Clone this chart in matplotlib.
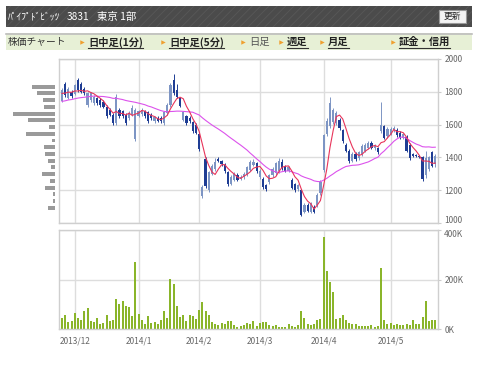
import numpy as np
import pandas as pd
import matplotlib
matplotlib.use("Agg")
import matplotlib.pyplot as plt
import matplotlib.transforms as mtransforms
from matplotlib.patches import Rectangle
from matplotlib.lines import Line2D

plt.rcParams['font.family'] = ['Noto Sans CJK JP', 'DejaVu Sans']
plt.rcParams['hatch.linewidth'] = 0.6

W, H = 480, 366

# ヘッダー
title_name = "ﾊﾟｲﾌﾟﾄﾞﾋﾞｯﾂ"
title_code = "3831"
title_market = "東京 1部"
nav_label = "株価チャート"
nav_items = ["日中足(1分)", "日中足(5分)", "日足", "週足", "月足", "証金・信用"]
nav_links = [True, True, False, True, True, True]

# 営業日
holidays = ["2013-12-23", "2013-12-31", "2014-01-01", "2014-01-02", "2014-01-03",
            "2014-01-13", "2014-02-11", "2014-03-21", "2014-04-29", "2014-05-05", "2014-05-06"]
dates = pd.bdate_range("2013-11-26", "2014-05-23")
dates = dates[~dates.isin(pd.to_datetime(holidays))]

opens = [1745, 1850, 1765, 1800, 1785, 1870, 1850, 1820, 1720, 1750,
         1730, 1760, 1750, 1740, 1710, 1690, 1660, 1610, 1690, 1680,
         1660, 1640, 1660, 1510, 1655, 1665, 1680, 1675, 1660, 1620,
         1640, 1640, 1610, 1670, 1720, 1870, 1810, 1760, 1630, 1650,
         1640, 1615, 1600, 1540, 1165, 1390, 1200, 1300, 1330, 1390,
         1375, 1355, 1310, 1240, 1265, 1295, 1270, 1280, 1295, 1325,
         1355, 1365, 1280, 1270, 1230, 1250, 1290, 1305, 1315, 1375,
         1345, 1320, 1265, 1235, 1205, 1200, 1070, 1110, 1070, 1100,
         1110, 1180, 1325, 1540, 1590, 1615, 1610, 1630, 1565, 1475,
         1440, 1380, 1420, 1395, 1420, 1440, 1460, 1490, 1455, 1455,
         1560, 1590, 1530, 1545, 1565, 1570, 1550, 1520, 1525, 1475,
         1420, 1415, 1410, 1405, 1290, 1330, 1430, 1360]
highs = [1825, 1860, 1830, 1810, 1850, 1885, 1860, 1830, 1800, 1800,
         1780, 1770, 1760, 1750, 1720, 1700, 1670, 1785, 1700, 1690,
         1670, 1680, 1720, 1700, 1690, 1700, 1690, 1685, 1670, 1655,
         1650, 1650, 1685, 1730, 1855, 1910, 1850, 1770, 1685, 1660,
         1650, 1625, 1610, 1550, 1230, 1400, 1320, 1360, 1395, 1405,
         1385, 1365, 1320, 1290, 1310, 1305, 1290, 1310, 1350, 1385,
         1390, 1375, 1330, 1280, 1240, 1300, 1340, 1375, 1395, 1390,
         1355, 1350, 1275, 1245, 1240, 1210, 1120, 1120, 1130, 1110,
         1180, 1260, 1545, 1640, 1770, 1700, 1680, 1640, 1575, 1485,
         1450, 1430, 1430, 1440, 1480, 1485, 1500, 1500, 1480, 1465,
         1735, 1600, 1585, 1585, 1590, 1580, 1560, 1550, 1535, 1485,
         1425, 1420, 1415, 1410, 1440, 1410, 1440, 1420]
lows = [1735, 1770, 1755, 1765, 1780, 1800, 1790, 1780, 1710, 1740,
        1720, 1720, 1710, 1700, 1640, 1650, 1595, 1600, 1640, 1640,
        1600, 1630, 1650, 1500, 1645, 1655, 1640, 1610, 1630, 1610,
        1615, 1610, 1600, 1660, 1710, 1780, 1760, 1705, 1620, 1600,
        1610, 1550, 1540, 1440, 1150, 1215, 1190, 1290, 1320, 1370,
        1350, 1305, 1225, 1230, 1255, 1255, 1260, 1270, 1285, 1315,
        1345, 1305, 1270, 1210, 1195, 1240, 1280, 1295, 1305, 1325,
        1310, 1310, 1205, 1190, 1195, 1040, 1060, 1065, 1060, 1060,
        1100, 1170, 1310, 1530, 1580, 1605, 1600, 1570, 1490, 1430,
        1365, 1370, 1380, 1385, 1410, 1430, 1450, 1450, 1445, 1420,
        1550, 1510, 1520, 1535, 1555, 1525, 1510, 1510, 1430, 1385,
        1400, 1400, 1395, 1255, 1275, 1320, 1340, 1340]
closes = [1810, 1780, 1820, 1775, 1840, 1810, 1800, 1790, 1790, 1790,
          1770, 1730, 1720, 1710, 1650, 1660, 1610, 1770, 1650, 1650,
          1610, 1670, 1700, 1690, 1680, 1690, 1650, 1620, 1640, 1645,
          1625, 1620, 1675, 1720, 1840, 1790, 1770, 1715, 1675, 1610,
          1620, 1560, 1550, 1450, 1220, 1225, 1310, 1350, 1375, 1380,
          1360, 1315, 1235, 1280, 1300, 1265, 1280, 1300, 1340, 1375,
          1375, 1315, 1320, 1220, 1205, 1290, 1330, 1365, 1380, 1335,
          1320, 1340, 1215, 1200, 1230, 1050, 1110, 1075, 1120, 1070,
          1170, 1250, 1535, 1620, 1730, 1690, 1670, 1580, 1500, 1440,
          1380, 1420, 1390, 1430, 1470, 1475, 1490, 1460, 1470, 1430,
          1600, 1520, 1575, 1575, 1580, 1535, 1520, 1540, 1440, 1395,
          1410, 1410, 1405, 1270, 1395, 1400, 1350, 1410]
# 表示期間より前の終値（移動平均用）
prior_closes = [1700, 1690, 1710, 1720, 1705, 1730, 1740, 1725, 1715, 1735,
                1750, 1740, 1730, 1720, 1735, 1745, 1760, 1750, 1740, 1755,
                1770, 1790, 1780, 1800]
volumes_k = [47, 57, 28, 34, 65, 44, 39, 73, 84, 34, 31, 47, 23, 26, 57, 34, 39, 123, 101, 112,
             93, 90, 54, 271, 62, 38, 23, 54, 24, 31, 22, 38, 74, 44, 201, 183, 93, 50, 57, 34,
             59, 54, 42, 77, 109, 74, 58, 28, 23, 19, 26, 23, 32, 32, 18, 9, 13, 16, 26, 23,
             34, 13, 26, 28, 31, 18, 13, 18, 8, 8, 8, 20, 12, 9, 18, 75, 47, 23, 16, 23,
             36, 42, 372, 236, 189, 152, 42, 46, 59, 39, 26, 22, 20, 15, 12, 15, 15, 16, 11, 12,
             245, 39, 23, 26, 18, 20, 18, 19, 23, 16, 39, 22, 22, 50, 113, 34, 39, 36]

# 価格帯別出来高
profile_prices = [1831, 1790, 1749, 1708, 1667, 1626, 1585, 1544, 1503, 1462,
                  1421, 1380, 1339, 1298, 1257, 1216, 1175, 1134, 1093]
profile_volume = [23, 18, 12, 11, 42, 27, 6, 29, 3, 11, 10, 7, 4, 13, 5, 10, 2, 2, 7]

n = len(dates)
x = np.arange(n)
o = np.array(opens); h = np.array(highs); l = np.array(lows); c = np.array(closes)
s = pd.Series(prior_closes + closes, dtype=float)
ma5 = s.rolling(5).mean().values[len(prior_closes):]
ma25 = s.rolling(25).mean().values[len(prior_closes):]

months = dates.to_period("M")
month_idx = [i for i in range(1, n) if months[i] != months[i - 1]]
month_lbl = ["%d/%d" % (dates[i].year, dates[i].month) for i in month_idx]

fig = plt.figure(figsize=(W / 100, H / 100), dpi=100)
fig.patch.set_facecolor("white")


def fx(px):
    return px / W


def fy(py):
    return 1 - py / H


# ヘッダー部分
fig.patches.append(Rectangle((fx(6), fy(27)), 466 / W, 21 / H, transform=fig.transFigure,
                             facecolor="#4b4b4b", edgecolor="#585858", lw=0, hatch="////"))
fig.text(fx(8), fy(16.5), title_name, color="white", fontsize=6.9, va="center")
fig.text(fx(67), fy(16.5), title_code, color="white", fontsize=7.3, va="center")
fig.text(fx(97), fy(16.5), title_market, color="white", fontsize=7.5, va="center")
fig.patches.append(Rectangle((fx(439), fy(23)), 27 / W, 13 / H, transform=fig.transFigure,
                             facecolor="#f3f3f3", edgecolor="#999999", lw=0.8))
fig.text(fx(452.5), fy(16.5), "更新", color="#222222", fontsize=6.3, ha="center", va="center")

fig.patches.append(Rectangle((fx(6), fy(50)), 466 / W, 17 / H, transform=fig.transFigure,
                             facecolor="#e7f0d6", edgecolor="none"))
fig.add_artist(Line2D([fx(6), fx(472)], [fy(33.5), fy(33.5)], color="#bdbdbd", lw=1.2,
                      transform=fig.transFigure))
fig.text(fx(8), fy(42), nav_label, color="#333333", fontsize=7, va="center")
arrow_x = [82, 163, 243, 281, 322, 393]
link_texts = []
for ax_px, label, link in zip(arrow_x, nav_items, nav_links):
    fig.add_artist(Line2D([fx(ax_px)], [fy(42)], marker=">", ms=3.2, color="#f0a030",
                          mec="none", transform=fig.transFigure))
    t = fig.text(fx(ax_px + 6), fy(42), label, fontsize=7.4, va="center",
                 color="#222222" if link else "#555555",
                 fontweight="bold" if link else "normal")
    if link:
        link_texts.append(t)

# チャート
ax = fig.add_axes([fx(59), fy(223), 379 / W, 164 / H])
axv = fig.add_axes([fx(59), fy(329.3), 379 / W, 99.3 / H])
axp = fig.add_axes([fx(10), fy(223), 45 / W, 164 / H])

up = c >= o
col_up, col_dn = "#7d95c4", "#1f3d94"
colors = np.where(up, col_up, col_dn)
body = np.maximum(np.abs(c - o), 4)
ax.vlines(x, l, h, colors=colors, lw=0.7, zorder=2)
ax.bar(x, body, bottom=np.minimum(o, c), width=0.68, color=colors, zorder=2)
ax.plot(x, ma25, color="#dc52ec", lw=0.8, zorder=3)
ax.plot(x, ma5, color="#e8345a", lw=0.8, zorder=4)

axv.bar(x, np.array(volumes_k) * 1000, width=0.62, color="#8ab52a", zorder=2)

axp.barh(profile_prices, profile_volume, height=24, color="#9a9a9a")
axp.set_ylim(1000, 2000)
axp.set_xlim(45, 0)
axp.axis("off")

for a in (ax, axv):
    a.set_xlim(-0.94, n - 1 + 0.85)
    a.set_xticks(month_idx)
    a.grid(True, color="#dddddd", lw=1.0, zorder=0)
    a.set_axisbelow(True)
    for sp in a.spines.values():
        sp.set_color("#cfcfcf")
        sp.set_linewidth(1.0)
    a.yaxis.tick_right()
    a.tick_params(axis="y", length=2.5, color="#cccccc", pad=2, labelsize=6, labelcolor="#666666")
    a.tick_params(axis="x", length=0, labelsize=6, labelcolor="#666666", pad=5)

ax.set_ylim(1000, 2000)
ax.set_yticks(range(1000, 2001, 200))
ax.set_xticklabels([])

axv.set_ylim(0, 400000)
axv.set_yticks([0, 200000, 400000])
axv.set_yticklabels(["0K", "200K", "400K"])
axv.set_xticklabels(month_lbl)

# 1000 と 400K のラベルが重ならないよう少しずらす
fig.canvas.draw()
up_shift = mtransforms.ScaledTranslation(0, 2.5 / 72, fig.dpi_scale_trans)
dn_shift = mtransforms.ScaledTranslation(0, -2.5 / 72, fig.dpi_scale_trans)
lbl_bottom = ax.get_yticklabels()[0]
lbl_bottom.set_transform(lbl_bottom.get_transform() + up_shift)
lbl_top = axv.get_yticklabels()[-1]
lbl_top.set_transform(lbl_top.get_transform() + dn_shift)

# リンクの下線
fig.canvas.draw()
r = fig.canvas.get_renderer()
inv = fig.transFigure.inverted()
for t in link_texts:
    bb = t.get_window_extent(r)
    p0 = inv.transform((bb.x0, bb.y0 - 0.5))
    p1 = inv.transform((bb.x1, bb.y0 - 0.5))
    fig.add_artist(Line2D([p0[0], p1[0]], [p0[1], p1[1]], color="#333333", lw=0.8,
                          transform=fig.transFigure))

fig.savefig("out.png", dpi=100)
